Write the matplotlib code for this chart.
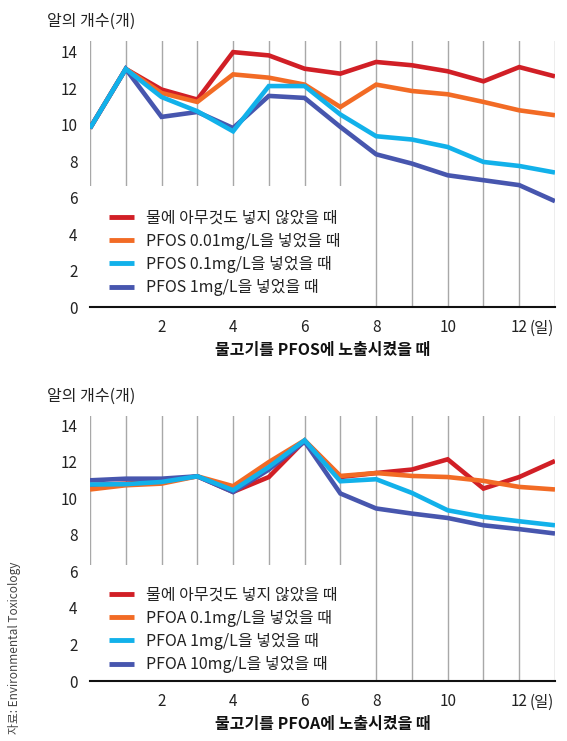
import matplotlib
matplotlib.use('Agg')
import matplotlib.pyplot as plt
from matplotlib.patches import Rectangle

plt.rcParams['font.family'] = ['Noto Sans CJK KR', 'DejaVu Sans']

days = list(range(14))

# PFOS (top)
pfos_labels = ['물에 아무것도 넣지 않았을 때', 'PFOS 0.01mg/L을 넣었을 때',
               'PFOS 0.1mg/L을 넣었을 때', 'PFOS 1mg/L을 넣었을 때']
pfos_ctrl = [9.8, 13.05, 11.92, 11.37, 13.97, 13.79, 13.06, 12.79, 13.43, 13.25, 12.92, 12.37, 13.15, 12.64]
pfos_001 = [9.8, 13.05, 11.73, 11.24, 12.75, 12.57, 12.19, 10.96, 12.19, 11.84, 11.66, 11.24, 10.78, 10.51]
pfos_01 = [9.8, 13.05, 11.51, 10.73, 9.63, 12.11, 12.11, 10.55, 9.36, 9.18, 8.77, 7.95, 7.73, 7.37]
pfos_1 = [9.8, 13.05, 10.42, 10.69, 9.81, 11.57, 11.46, 9.87, 8.37, 7.86, 7.22, 6.95, 6.68, 5.80]

# PFOA (bottom)
pfoa_labels = ['물에 아무것도 넣지 않았을 때', 'PFOA 0.1mg/L을 넣었을 때',
               'PFOA 1mg/L을 넣었을 때', 'PFOA 10mg/L을 넣었을 때']
pfoa_ctrl = [10.72, 10.8, 10.9, 11.2, 10.35, 11.16, 13.15, 11.16, 11.38, 11.57, 12.13, 10.53, 11.16, 12.04]
pfoa_01 = [10.48, 10.71, 10.8, 11.2, 10.66, 11.98, 13.17, 11.22, 11.38, 11.22, 11.16, 10.95, 10.62, 10.48]
pfoa_1 = [10.75, 10.77, 10.89, 11.2, 10.44, 11.71, 13.17, 10.93, 11.04, 10.29, 9.34, 8.98, 8.74, 8.52]
pfoa_10 = [10.98, 11.07, 11.07, 11.2, 10.34, 11.57, 13.1, 10.26, 9.44, 9.16, 8.92, 8.52, 8.31, 8.07]

colors = ['#d11f26', '#f26b25', '#12b1ea', '#4756ae']
yticks = [0, 2, 4, 6, 8, 10, 12, 14]
xticks = [2, 4, 6, 8, 10, 12]


def DrawPanel(ax, series, labels, xlabel, ytop, box_top, leg_top):
    for x in days:
        ax.axvline(x, color='#a8a8a8', lw=1, zorder=1)
    ax.add_patch(Rectangle((0, 0), 7.5, box_top, facecolor='white',
                           edgecolor='none', zorder=2))
    order = [0, 1, 3, 2]  # cyan drawn last
    handles = [None] * 4
    for i in order:
        line, = ax.plot(days, series[i], color=colors[i], lw=3.3,
                        solid_joinstyle='miter', solid_capstyle='butt',
                        zorder=3 + order.index(i), label=labels[i])
        handles[i] = line
    leg = ax.legend(handles=handles, loc='upper left',
                    bbox_to_anchor=(0.027, leg_top),
                    frameon=False, fontsize=11.5, handlelength=1.6,
                    handletextpad=0.7, labelspacing=0.4, borderaxespad=0)
    for h in leg.get_lines():
        h.set_linewidth(3.5)
    for t in leg.get_texts():
        t.set_color('#222222')
    ax.set_xlim(0, 13)
    ax.set_ylim(0, ytop)
    ax.set_yticks(yticks)
    ax.set_xticks(xticks)
    ax.tick_params(length=0, labelsize=11, colors='#222222')
    ax.tick_params(axis='x', pad=9)
    ax.tick_params(axis='y', pad=9)
    for side in ['top', 'right', 'left']:
        ax.spines[side].set_visible(False)
    ax.spines['bottom'].set_color('#111111')
    ax.spines['bottom'].set_linewidth(1.5)
    ax.spines['bottom'].set_zorder(10)
    ax.annotate('(일)', xy=(12, 0), xycoords=('data', 'axes fraction'),
                xytext=(7.5, -9), textcoords='offset points',
                ha='left', va='top', fontsize=11, color='#222222')
    ax.set_xlabel(xlabel, fontsize=11.5, fontweight='bold', labelpad=4,
                  color='#111111')
    ax.text(-0.092, 1.075, '알의 개수(개)', transform=ax.transAxes,
            fontsize=11.5, color='#222222', ha='left', va='center')


fig = plt.figure(figsize=(5.67, 7.41), dpi=100)
ax1 = fig.add_axes([90 / 567, (741 - 307) / 741, 465 / 567, 266 / 741])
ax2 = fig.add_axes([90 / 567, (741 - 681) / 741, 465 / 567, 265 / 741])

DrawPanel(ax1, [pfos_ctrl, pfos_001, pfos_01, pfos_1], pfos_labels,
          '물고기를 PFOS에 노출시켰을 때', 14.58, 6.65, 0.392)
DrawPanel(ax2, [pfoa_ctrl, pfoa_01, pfoa_1, pfoa_10], pfoa_labels,
          '물고기를 PFOA에 노출시켰을 때', 14.5, 6.35, 0.382)

fig.text(15 / 567, 1 - 648 / 741, '자료: Environmental Toxicology',
         rotation=90, fontsize=8.5, color='#444444', ha='center', va='center')

fig.savefig('out.png', dpi=100)
